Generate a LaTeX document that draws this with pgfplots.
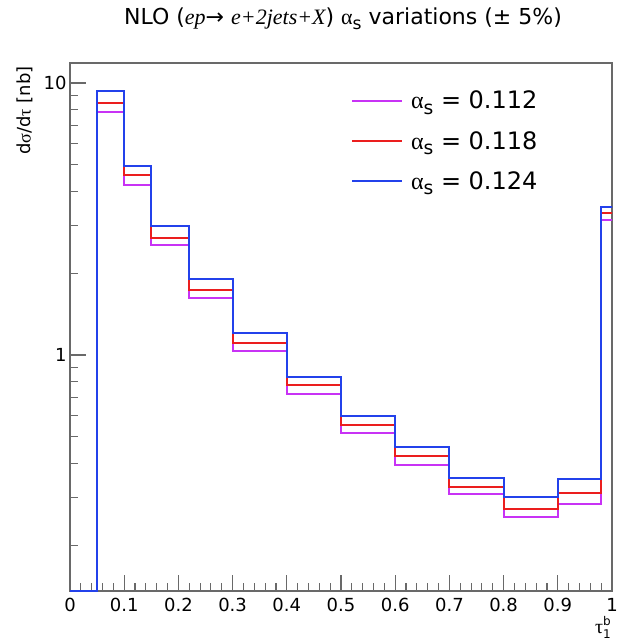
\documentclass[border=0pt]{standalone}
\usepackage{fontspec}
\setmainfont{DejaVu Sans}
\newfontfamily\symb{Liberation Serif}
\usepackage{pgfplots}
\pgfplotsset{compat=1.18}
\definecolor{cMag}{RGB}{200,50,245}
\definecolor{cRed}{RGB}{235,30,30}
\definecolor{cBlue}{RGB}{35,65,235}
\definecolor{cFrame}{RGB}{105,105,105}
\newcommand\sub[1]{\raisebox{-0.4ex}{\scalebox{0.78}{#1}}}

\begin{document}
\begin{tikzpicture}[x=1pt,y=1pt]
\useasboundingbox (0,0) rectangle (619,642);
\begin{axis}[
    at={(70pt,51pt)}, anchor=south west,
    scale only axis, width=542pt, height=528pt,
    xmin=0, xmax=1, ymin=0.1356, ymax=11.85,
    ymode=log,
    axis line style={cFrame, line width=1.1pt},
    xtick={0,0.1,0.2,0.3,0.4,0.5,0.6,0.7,0.8,0.9,1},
    xticklabels={0,0.1,0.2,0.3,0.4,0.5,0.6,0.7,0.8,0.9,1},
    minor x tick num=4,
    ytick={1,10}, yticklabels={1,10},
    minor ytick={0.2,0.3,0.4,0.5,0.6,0.7,0.8,0.9,2,3,4,5,6,7,8,9},
    tick align=inside, xtick pos=bottom, ytick pos=left,
    major tick length=16pt, minor tick length=8pt,
    every tick/.style={cFrame, line width=1.1pt},
    tick label style={font=\fontsize{18}{20}\selectfont},
    xticklabel style={yshift=-4pt},
    /pgf/number format/assume math mode=true,
    legend style={at={(0.52,0.951)}, anchor=north west, draw=none, fill=none,
                  font=\fontsize{24}{28}\selectfont, row sep=17pt, inner sep=0pt,
                  cells={anchor=west},
                  /tikz/every odd column/.append style={column sep=7pt}},
    legend image code/.code={\draw[#1] (0pt,0pt) -- (48pt,0pt);},
    every axis plot/.append style={line width=2pt, line join=miter, line cap=rect},
]

% alpha_s = 0.112
\addplot[cMag, const plot mark left] coordinates {
    (0,0.1356) (0.05,7.82) (0.1,4.22) (0.15,2.53) (0.22,1.62) (0.3,1.034)
    (0.4,0.719) (0.5,0.517) (0.6,0.394) (0.7,0.308) (0.8,0.254)
    (0.9,0.283) (0.98,3.14) (1,3.14)
};
\addlegendentry{{\symb α}\sub{s} = 0.112}

% alpha_s = 0.118
\addplot[cRed, const plot mark left] coordinates {
    (0,0.1356) (0.05,8.44) (0.1,4.59) (0.15,2.70) (0.22,1.74) (0.3,1.107)
    (0.4,0.776) (0.5,0.553) (0.6,0.425) (0.7,0.327) (0.8,0.272)
    (0.9,0.311) (0.98,3.33) (1,3.33)
};
\addlegendentry{{\symb α}\sub{s} = 0.118}

% alpha_s = 0.124
\addplot[cBlue, const plot mark left] coordinates {
    (0,0.1356) (0.05,9.35) (0.1,4.94) (0.15,2.98) (0.22,1.91) (0.3,1.205)
    (0.4,0.830) (0.5,0.597) (0.6,0.459) (0.7,0.353) (0.8,0.301)
    (0.9,0.350) (0.98,3.49) (1,3.49)
};
\addlegendentry{{\symb α}\sub{s} = 0.124}

\end{axis}
\node[font=\fontsize{22}{26}\selectfont] at (343,623)
  {NLO ({\symb\itshape ep}→ {\symb\itshape e+2jets+X}) {\symb α}\sub{s} variations (± 5\%)};
\node[font=\fontsize{18}{20}\selectfont, rotate=90, anchor=east] at (25,579)
  {d{\symb σ}/d{\symb τ} [nb]};
\node[font=\fontsize{20}{20}\selectfont, inner sep=0pt] at (603,15)
  {{\symb τ}\makebox[0pt][l]{\raisebox{8pt}{\fontsize{12}{12}\selectfont b}}\raisebox{-5pt}{\fontsize{12}{12}\selectfont 1}};
\end{tikzpicture}
\end{document}
